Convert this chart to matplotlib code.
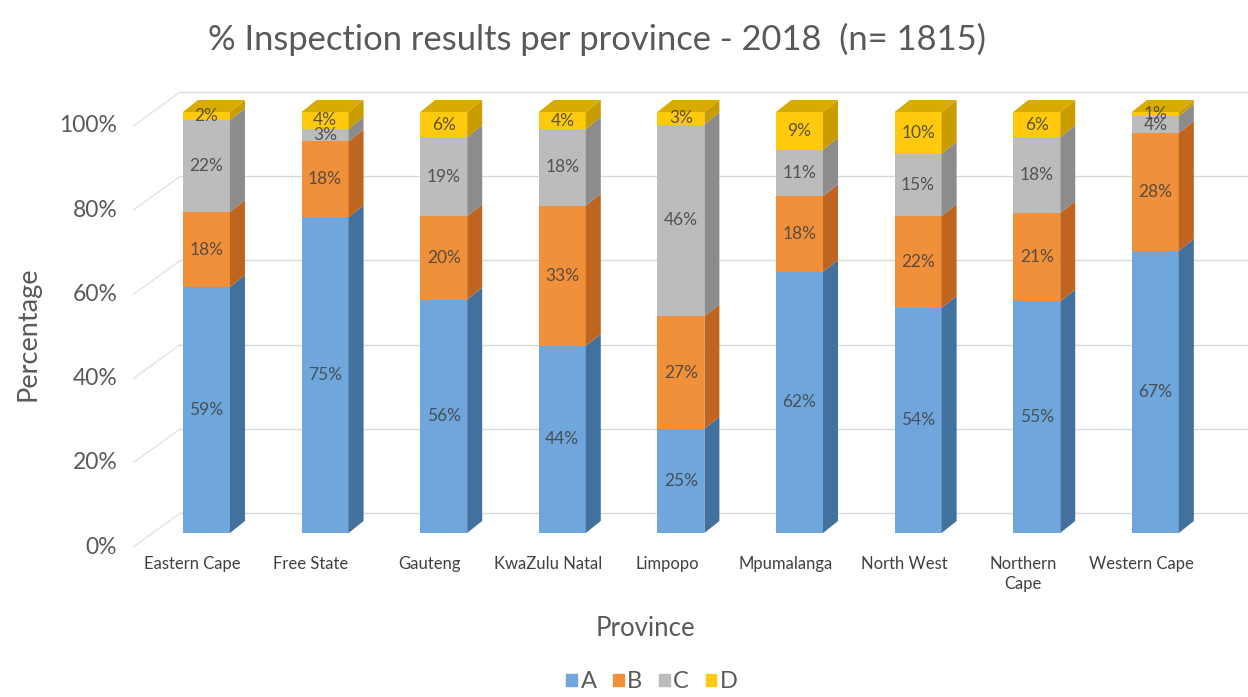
import numpy as np
import matplotlib
matplotlib.use('Agg')
import matplotlib.pyplot as plt
from matplotlib.patches import Polygon, Rectangle
from matplotlib.lines import Line2D
import matplotlib.transforms as mtransforms

plt.rcParams['font.family'] = ['Lato', 'DejaVu Sans']

provinces = ['Eastern Cape', 'Free State', 'Gauteng', 'KwaZulu Natal', 'Limpopo',
             'Mpumalanga', 'North West', 'Northern\nCape', 'Western Cape']
grade_a = [59, 75, 56, 44, 25, 62, 54, 55, 67]
grade_b = [18, 18, 20, 33, 27, 18, 22, 21, 28]
grade_c = [22, 3, 19, 18, 46, 11, 15, 18, 4]
grade_d = [2, 4, 6, 4, 3, 9, 10, 6, 1]
series = {'A': grade_a, 'B': grade_b, 'C': grade_c, 'D': grade_d}
yticks = [0, 20, 40, 60, 80, 100]

# front, side, top colours for each series
colors = {
    'A': ('#6fa6dc', '#41719c', '#5a8cc0'),
    'B': ('#f0903a', '#c0651f', '#d07828'),
    'C': ('#bdbcbd', '#8c8c8c', '#a5a5a5'),
    'D': ('#ffc90e', '#c99c00', '#d8ab00'),
}

W, H, dpi = 1248, 697, 100
fig = plt.figure(figsize=(W / dpi, H / dpi), dpi=dpi)

# axes = plane of the bar fronts; pixel layout from the reference
ax_left, ax_right = 135.3, 1226.5
ax_top, ax_bot = 112, 533
ax = fig.add_axes([ax_left / W, 1 - ax_bot / H, (ax_right - ax_left) / W, (ax_bot - ax_top) / H])
ax.set_xlim(-0.6, 8.6)
ax.set_ylim(0, 100)
ax.axis('off')

px_x = (ax_right - ax_left) / 9.2   # pixels per category unit
px_y = (ax_bot - ax_top) / 100.0    # pixels per percent
width = 47 / px_x
ddx, ddy = 15 / px_x, 12 / px_y     # bar depth

def shifted(dx, dy):
    return ax.transData + mtransforms.ScaledTranslation(dx / dpi, -dy / dpi, fig.dpi_scale_trans)

# back wall gridlines and left side wall
for v in yticks:
    ax.add_line(Line2D([-0.6 + 45 / px_x, 8.6 + 1], [v, v], color='#d9d9d9', lw=1,
                       transform=shifted(0, -20), clip_on=False, zorder=0))
    ax.add_line(Line2D([-0.6 - 2 / px_x, -0.6 + 45 / px_x], [v - 14 / px_y, v + 20 / px_y],
                       color='#e3e3e3', lw=1, transform=ax.transData, clip_on=False, zorder=0))
    ax.text(-0.6 - 18 / px_x, v, '{}%'.format(v), transform=shifted(0, 14), ha='right', va='center',
            fontsize=16.5, color='#595959')

x = np.arange(len(provinces))
totals = np.sum([np.array(v, dtype=float) for v in series.values()], axis=0)
bottom = np.zeros(len(provinces))
for name, vals in series.items():
    vals = np.array(vals, dtype=float)
    share = vals / totals * 100   # 100% stacked
    front, side, top = colors[name]
    ax.bar(x, share, width, bottom=bottom, color=front, zorder=2, clip_on=False, label=name)
    for i in range(len(x)):
        b, t = bottom[i], bottom[i] + share[i]
        xr = x[i] + width / 2
        ax.add_patch(Polygon([(xr, b), (xr + ddx, b + ddy), (xr + ddx, t + ddy), (xr, t)],
                             closed=True, facecolor=side, edgecolor='none', zorder=2, clip_on=False))
        ax.text(x[i], (b + t) / 2, '{}%'.format(int(vals[i])), ha='center', va='center',
                fontsize=12.5, color='#404040', alpha=0.85, zorder=4)
    bottom = bottom + share

# top faces (topmost series D)
for i in range(len(x)):
    t = bottom[i]
    xl, xr = x[i] - width / 2, x[i] + width / 2
    ax.add_patch(Polygon([(xl, t), (xr, t), (xr + ddx, t + ddy), (xl + ddx, t + ddy)],
                         closed=True, facecolor=colors['D'][2], edgecolor='none', zorder=3, clip_on=False))

# category labels on the front plane
for i, p in enumerate(provinces):
    ax.text(x[i], 0, p, transform=shifted(-14, 23), ha='center', va='top',
            fontsize=12, color='#404040', linespacing=1.3)

fig.text(597 / W, 1 - 39 / H, '% Inspection results per province - 2018  (n= 1815)',
         ha='center', va='center', fontsize=24.8, color='#595959')
fig.text(28 / W, 1 - 334 / H, 'Percentage', rotation=90, ha='center', va='center',
         fontsize=19.5, color='#595959')
fig.text(645 / W, 1 - 628 / H, 'Province', ha='center', va='center', fontsize=18.5, color='#595959')

handles = [Rectangle((0, 0), 1, 1, color=colors[k][0]) for k in series]
fig.legend(handles, list(series.keys()), loc='center', bbox_to_anchor=(652 / W, 1 - 682 / H),
           ncol=4, frameon=False, fontsize=17, handlelength=0.45, handleheight=0.45,
           handletextpad=0.15, columnspacing=0.7, labelcolor='#595959')

fig.savefig('out.png', dpi=dpi)
